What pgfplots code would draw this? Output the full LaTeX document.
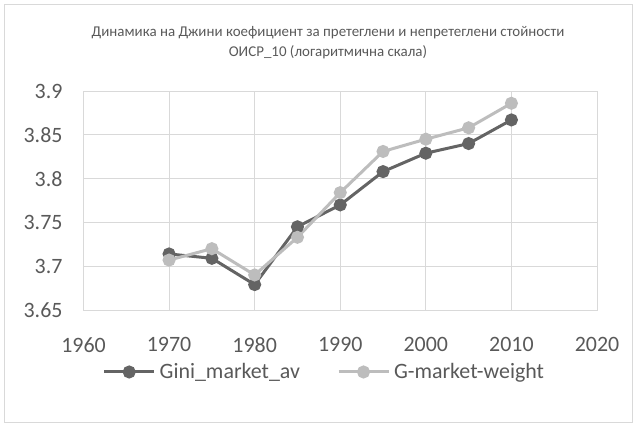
\documentclass[border=0pt]{standalone}
\usepackage{fontspec}
\setmainfont{Carlito}
\usepackage{pgfplots}
\pgfplotsset{compat=1.18}
\definecolor{darkser}{RGB}{100,100,100}
\definecolor{lightser}{RGB}{189,189,189}
\definecolor{gridc}{RGB}{217,217,217}
\definecolor{txt}{RGB}{89,89,89}
\begin{document}
\begin{tikzpicture}[x=1bp,y=1bp]
\useasboundingbox (-83.5,-115) rectangle (553.5,310);
\draw[gridc, line width=1bp] (-78.5,-112) rectangle (548.5,306);
\node[txt, font=\fontsize{15}{20}\selectfont, align=center] at (244.5,267) {Динамика на Джини коефициент за претеглени и непретеглени стойности\\ОИСР\_10 (логаритмична скала)};
\begin{axis}[at={(0,0)}, anchor=south west, scale only axis,
  width=513.5bp, height=219bp,
  xmin=1960, xmax=2020, ymin=3.65, ymax=3.9,
  xtick={1960,1970,1980,1990,2000,2010,2020},
  xticklabels={1960,1970,1980,1990,2000,2010,2020},
  ytick={3.65,3.7,3.75,3.8,3.85,3.9},
  yticklabels={3.65,3.7,3.75,3.8,3.85,3.9},
  grid=major, major grid style={gridc, line width=1bp},
  axis line style={gridc, line width=1bp},
  major tick length=0pt,
  tick label style={font=\fontsize{22}{22}\selectfont, text=txt},
  yticklabel shift=17.5bp, xticklabel shift=24bp,
  legend columns=2,
  legend style={draw=none, at={(0.471,-0.283)}, anchor=center,
    font=\fontsize{22}{22}\selectfont, text=txt,
    nodes={inner xsep=4bp, inner ysep=2bp},
    /tikz/every even column/.append style={column sep=33bp}},
  legend image code/.code={\draw[mark repeat=2,mark phase=2,#1] plot coordinates {(0bp,0bp) (25bp,0bp) (50bp,0bp)};},
]
\addplot[darkser, line width=3bp, mark=*, mark size=5bp, mark options={fill=darkser, draw=darkser}] coordinates {
(1970,3.714) (1975,3.709) (1980,3.679) (1985,3.745) (1990,3.770) (1995,3.808) (2000,3.829) (2005,3.840) (2010,3.867)};
\addlegendentry{Gini\_market\_av}
\addplot[lightser, line width=3bp, mark=*, mark size=5bp, mark options={fill=lightser, draw=lightser}] coordinates {
(1970,3.707) (1975,3.720) (1980,3.690) (1985,3.733) (1990,3.784) (1995,3.831) (2000,3.845) (2005,3.858) (2010,3.886)};
\addlegendentry{G-market-weight}
\end{axis}
\end{tikzpicture}
\end{document}
